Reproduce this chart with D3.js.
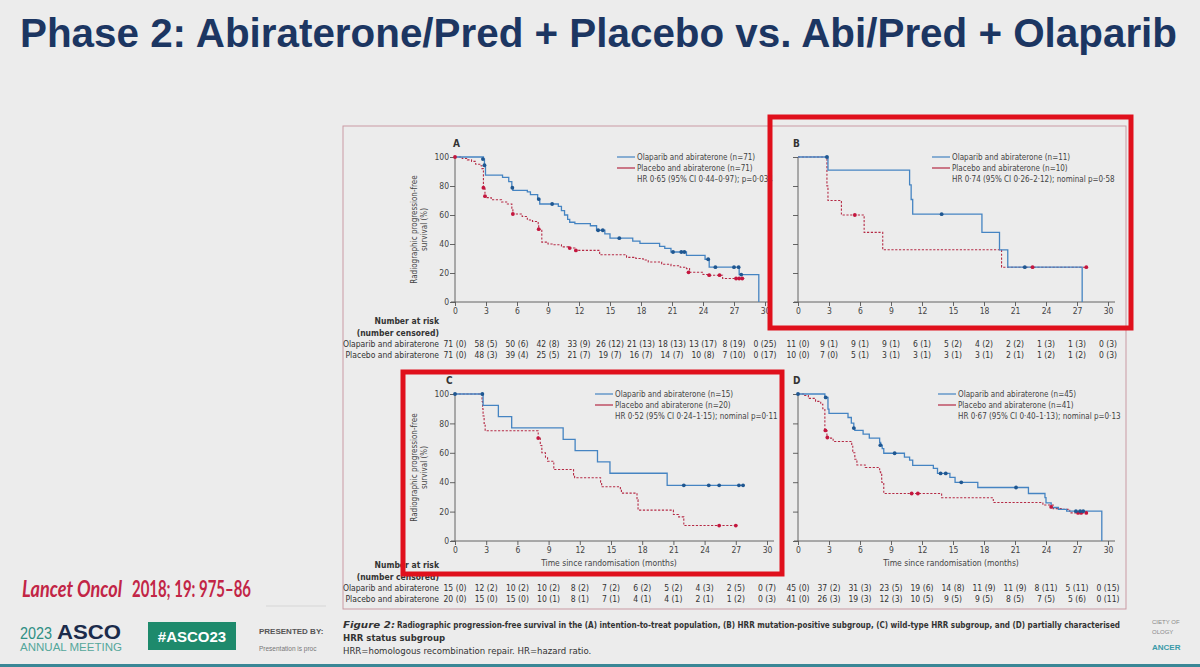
<!DOCTYPE html>
<html>
<head>
<meta charset="utf-8">
<script src="https://cdn.jsdelivr.net/npm/d3@7"></script>
<style>
  html, body { margin: 0; padding: 0; background: #ececec; }
  svg { display: block; }
</style>
</head>
<body>
<script>
// ---- data ----
const monthTicks = [0, 3, 6, 9, 12, 15, 18, 21, 24, 27, 30];
const survTicks = [0, 20, 40, 60, 80, 100];
const armLabels = ["Olaparib and abiraterone", "Placebo and abiraterone"];

// step points [month, survival %]
const aOlaSteps = [[0,100],[2.75,98.6],[2.85,94.3],[2.95,87.5],[4.6,86],[5.2,83],[5.5,78.8],[5.6,77],[7.0,76],[7.3,74],[8.0,71],[8.2,67.6],[10.0,66],[10.3,63],[10.6,60],[10.9,57],[11.1,55],[11.6,54],[13.1,52.6],[13.7,49.5],[14.5,47],[15.0,44],[17.2,42],[17.9,40.5],[19.8,38.4],[20.3,37],[20.9,34.5],[22.4,32.2],[24.2,29.5],[24.6,24],[27.5,18.9],[29.4,18.9],[29.4,0]];
const aOlaCens = [[2.7,98.6],[2.85,94.3],[5.55,78.8],[8.1,71],[9.4,67.6],[13.85,49.5],[14.3,49.5],[15.9,44],[21.1,34.5],[21.9,34.5],[22.2,34.5],[24.5,29.5],[25.2,24],[27.0,24],[27.45,24],[27.7,18.9]];
const aPlaSteps = [[0,100],[0.7,99],[1.2,98],[1.6,97],[2.0,95],[2.4,94],[2.6,92],[2.75,78.8],[2.9,73],[3.0,72],[3.5,70.5],[4.5,69],[5.0,67.6],[5.5,64],[5.6,60.7],[6.5,59],[7.0,56.6],[7.5,55.5],[8.05,54],[8.1,50.2],[8.4,41.3],[9.0,40],[9.5,39.5],[10.3,38],[11.0,37.2],[11.6,35.6],[14.0,32.6],[16.6,30.8],[17.5,30],[18.2,29],[18.7,27.6],[20.0,26],[20.9,25],[21.8,24],[22.4,23],[22.7,20.5],[24.0,19],[24.5,18.5],[25.9,16.2],[28.0,16.2]];
const aPlaCens = [[0,100],[2.75,78.8],[2.9,73],[5.6,60.7],[8.1,50.2],[11.1,37.2],[11.7,35.6],[22.6,20.5],[24.6,18.5],[25.6,18.5],[27.2,16.2],[27.5,16.2],[27.8,16.2]];

const bOlaSteps = [[0,100],[2.9,90.9],[10.8,80.8],[10.95,70.7],[11.1,60.6],[17.8,48],[19.5,36],[20.3,24],[27.5,24],[27.5,0]];
const bOlaCens = [[2.8,100],[13.9,60.6],[21.95,24]];
const bPlaSteps = [[0,100],[2.8,80],[2.9,70],[4.2,60],[6.4,48],[8.2,36],[19.7,24],[27.9,24]];
const bPlaCens = [[5.5,60],[22.7,24],[27.9,24]];

const cOlaSteps = [[0,100],[2.7,92.3],[4.17,84.6],[5.45,76.9],[10.4,69.2],[11.55,61.5],[13.7,53.8],[14.9,46.1],[20.4,37.9],[27.8,37.9]];
const cOlaCens = [[0,100],[2.63,100],[22.0,37.9],[24.4,37.9],[25.4,37.9],[27.3,37.9],[27.7,37.9]];
const cPlaSteps = [[0,100],[2.6,95],[2.65,90],[2.7,85],[2.8,80],[2.9,75],[8.0,70],[8.2,65],[8.35,60],[8.7,57],[8.9,54.3],[9.5,48.6],[11.4,45],[11.5,43],[14.0,40],[14.1,36.9],[15.9,35],[16.0,32.6],[17.5,28],[17.6,21],[21.0,18],[21.5,16.4],[22.0,10.5],[27.2,10.5]];
const cPlaCens = [[8.0,70],[25.4,10.5],[27.0,10.5]];

const dOlaSteps = [[0,100],[2.6,97.7],[2.9,89.7],[3.0,86.8],[4.84,84],[5.16,80.2],[5.4,76.8],[5.5,75.2],[6.3,72.7],[6.9,70],[7.9,67],[8.0,65.2],[8.15,62.9],[8.3,59.7],[10.3,57],[10.8,55],[11.1,51.5],[13.1,49.4],[13.5,46],[14.7,43.3],[15.2,39.9],[17.4,36.4],[22.3,32.3],[23.9,29.5],[24.0,26],[24.5,22.8],[25.2,21.5],[26.0,20.3],[29.4,20.3],[29.4,0]];
const dOlaCens = [[0,100],[2.68,97.7],[5.4,76.8],[7.97,65.2],[9.35,59.7],[13.8,46],[14.3,46],[15.8,39.9],[21.1,36.4],[26.9,20.3],[27.3,20.3],[27.6,20.3]];
const dPlaSteps = [[0,100],[0.65,99],[1.0,97],[1.7,95],[2.2,93],[2.4,90],[2.6,75.2],[2.8,70.4],[3.0,70],[3.4,67.7],[5.2,65],[5.3,60],[5.5,55.6],[5.7,51.7],[6.5,50],[7.9,47],[8.0,46],[8.1,40],[8.3,32.3],[13.9,29.4],[18.9,26.2],[23.7,24.5],[24.7,22],[25.6,21.5],[26.3,19.1],[28.1,19.1]];
const dPlaCens = [[2.65,75.2],[2.84,70.4],[11.0,32.3],[11.6,32.3],[24.5,23.2],[27.1,19.1],[27.4,19.1],[27.9,19.1]];

const aOlaRisk = ["71 (0)","58 (5)","50 (6)","42 (8)","33 (9)","26 (12)","21 (13)","18 (13)","13 (17)","8 (19)","0 (25)"];
const aPlaRisk = ["71 (0)","48 (3)","39 (4)","25 (5)","21 (7)","19 (7)","16 (7)","14 (7)","10 (8)","7 (10)","0 (17)"];
const bOlaRisk = ["11 (0)","9 (1)","9 (1)","9 (1)","6 (1)","5 (2)","4 (2)","2 (2)","1 (3)","1 (3)","0 (3)"];
const bPlaRisk = ["10 (0)","7 (0)","5 (1)","3 (1)","3 (1)","3 (1)","3 (1)","2 (1)","1 (2)","1 (2)","0 (3)"];
const cOlaRisk = ["15 (0)","12 (2)","10 (2)","10 (2)","8 (2)","7 (2)","6 (2)","5 (2)","4 (3)","2 (5)","0 (7)"];
const cPlaRisk = ["20 (0)","15 (0)","15 (0)","10 (1)","8 (1)","7 (1)","4 (1)","4 (1)","2 (1)","1 (2)","0 (3)"];
const dOlaRisk = ["45 (0)","37 (2)","31 (3)","23 (5)","19 (6)","14 (8)","11 (9)","11 (9)","8 (11)","5 (11)","0 (15)"];
const dPlaRisk = ["41 (0)","26 (3)","19 (3)","12 (3)","10 (5)","9 (5)","9 (5)","8 (5)","7 (5)","5 (6)","0 (11)"];

const legendN = { A: ["71", "71"], B: ["11", "10"], C: ["15", "20"], D: ["45", "41"] };
const hrText = {
  A: "HR 0·65 (95% CI 0·44–0·97); p=0·034",
  B: "HR 0·74 (95% CI 0·26–2·12); nominal p=0·58",
  C: "HR 0·52 (95% CI 0·24–1·15); nominal p=0·11",
  D: "HR 0·67 (95% CI 0·40–1·13); nominal p=0·13"
};

// ---- drawing ----
const W = 1200, H = 667;
const blue = "#4584c2", blueDot = "#1f5791", red = "#b52a45", redDot = "#c4163e";

const svg = d3.select("body").append("svg").attr("width", W).attr("height", H);
svg.append("rect").attr("width", W).attr("height", H).attr("fill", "#ececec");

// title
svg.append("text")
  .attr("x", 20).attr("y", 47)
  .attr("textLength", 1157).attr("lengthAdjust", "spacingAndGlyphs")
  .attr("font-family", "Liberation Sans, Arial, sans-serif")
  .attr("font-weight", "bold").attr("font-size", 40)
  .attr("fill", "#1c3662")
  .text("Phase 2: Abiraterone/Pred + Placebo vs. Abi/Pred + Olaparib");

// figure frame
svg.append("rect")
  .attr("x", 343).attr("y", 126).attr("width", 783).attr("height", 483)
  .attr("fill", "none").attr("stroke", "#c99aa3").attr("stroke-width", 1);

const panels = [
  { id: "A", x0: 455, x1: 765, top: 157, bottom: 302, ola: aOlaSteps, olaC: aOlaCens, pla: aPlaSteps, plaC: aPlaCens,
    yLabels: true, xTitle: false, legX: 162, risk: [aOlaRisk, aPlaRisk], riskY: 347, riskLabels: true },
  { id: "B", x0: 798, x1: 1108, top: 157, bottom: 302, ola: bOlaSteps, olaC: bOlaCens, pla: bPlaSteps, plaC: bPlaCens,
    yLabels: false, xTitle: false, legX: 134, risk: [bOlaRisk, bPlaRisk], riskY: 347, riskLabels: false },
  { id: "C", x0: 455, x1: 767, top: 394, bottom: 541, ola: cOlaSteps, olaC: cOlaCens, pla: cPlaSteps, plaC: cPlaCens,
    yLabels: true, xTitle: true, legX: 140, risk: [cOlaRisk, cPlaRisk], riskY: 591, riskLabels: true },
  { id: "D", x0: 798, x1: 1108, top: 394, bottom: 541, ola: dOlaSteps, olaC: dOlaCens, pla: dPlaSteps, plaC: dPlaCens,
    yLabels: false, xTitle: true, legX: 140, risk: [dOlaRisk, dPlaRisk], riskY: 591, riskLabels: false }
];

const font = "Liberation Sans Narrow, DejaVu Sans Condensed, Roboto, sans-serif";
const axisColor = "#555";

panels.forEach(p => {
  const x = d3.scaleLinear().domain([0, 30]).range([p.x0, p.x1]);
  const y = d3.scaleLinear().domain([0, 100]).range([p.bottom, p.top]);
  const g = svg.append("g");

  // x axis
  const xa = g.append("g").attr("transform", `translate(0,${p.bottom})`)
    .call(d3.axisBottom(x).tickValues(monthTicks).tickSize(4).tickPadding(2));
  xa.select(".domain").attr("d", `M${p.x0 - 4},0H${p.x1 + 7}`);
  // y axis
  const ya = g.append("g").attr("transform", `translate(${p.x0},0)`)
    .call(d3.axisLeft(y).tickValues(survTicks).tickSize(5).tickPadding(1)
      .tickFormat(p.yLabels ? d3.format("d") : ""));
  ya.select(".domain").attr("d", `M0,${p.top}V${p.bottom}`);
  g.selectAll(".domain, .tick line").attr("stroke", axisColor).attr("stroke-width", 0.9);
  g.selectAll(".tick text").attr("font-family", font).attr("font-size", 8.5).attr("fill", "#444");

  // panel letter
  g.append("text").attr("x", p.id === "C" ? 446 : (p.id === "A" ? 453 : 793))
    .attr("y", p.top - 10).attr("font-family", font).attr("font-weight", "bold")
    .attr("font-size", 10).attr("fill", "#333").text(p.id);

  if (p.yLabels) {
    const ly = (p.top + p.bottom) / 2;
    const t = g.append("text").attr("transform", `translate(${p.x0 - 38},${ly}) rotate(-90)`)
      .attr("text-anchor", "middle").attr("font-family", font).attr("font-size", 8).attr("fill", "#444");
    t.append("tspan").attr("x", 0).attr("dy", 0).text("Radiographic progression-free");
    t.append("tspan").attr("x", 0).attr("dy", 10).text("survival (%)");
  }
  if (p.xTitle) {
    g.append("text").attr("x", (p.x0 + p.x1) / 2 - 2).attr("y", p.bottom + 25)
      .attr("text-anchor", "middle").attr("font-family", font).attr("font-size", 8.5).attr("fill", "#444")
      .text("Time since randomisation (months)");
  }

  const line = d3.line().x(d => x(d[0])).y(d => y(d[1])).curve(d3.curveStepAfter);
  g.append("path").datum(p.pla).attr("d", line).attr("fill", "none")
    .attr("stroke", red).attr("stroke-width", 1.1).attr("stroke-dasharray", "2.2,1.6");
  g.append("path").datum(p.ola).attr("d", line).attr("fill", "none")
    .attr("stroke", blue).attr("stroke-width", 1.3);
  g.selectAll(".cp").data(p.plaC).join("circle").attr("cx", d => x(d[0])).attr("cy", d => y(d[1]))
    .attr("r", 1.9).attr("fill", redDot);
  g.selectAll(".co").data(p.olaC).join("circle").attr("cx", d => x(d[0])).attr("cy", d => y(d[1]))
    .attr("r", 1.9).attr("fill", blueDot);

  // legend
  const lx = p.x0 + p.legX;
  [[blue, armLabels[0], legendN[p.id][0]], [red, armLabels[1], legendN[p.id][1]]].forEach((d, i) => {
    const yy = p.top + i * 11;
    g.append("line").attr("x1", lx).attr("x2", lx + 18).attr("y1", yy).attr("y2", yy)
      .attr("stroke", d[0]).attr("stroke-width", 1.2);
    g.append("text").attr("x", lx + 20).attr("y", yy + 3).attr("font-family", font)
      .attr("font-size", 8).attr("fill", "#444").text(`${d[1]} (n=${d[2]})`);
  });
  g.append("text").attr("x", lx + 20).attr("y", p.top + 25).attr("font-family", font)
    .attr("font-size", 8).attr("fill", "#444").text(hrText[p.id]);

  // number at risk
  p.risk.forEach((row, i) => {
    g.selectAll(null).data(row).join("text")
      .attr("x", (d, j) => x(monthTicks[j])).attr("y", p.riskY + i * 10.5)
      .attr("text-anchor", "middle").attr("font-family", font).attr("font-size", 8.5).attr("fill", "#333")
      .text(d => d);
  });
  if (p.riskLabels) {
    const rx = 439;
    g.append("text").attr("x", rx).attr("y", p.riskY - 23).attr("text-anchor", "end")
      .attr("font-family", font).attr("font-weight", "bold").attr("font-size", 8.5).attr("fill", "#333").text("Number at risk");
    g.append("text").attr("x", rx).attr("y", p.riskY - 11.5).attr("text-anchor", "end")
      .attr("font-family", font).attr("font-weight", "bold").attr("font-size", 8.5).attr("fill", "#333").text("(number censored)");
    armLabels.forEach((lab, i) => {
      g.append("text").attr("x", rx).attr("y", p.riskY + i * 10.5).attr("text-anchor", "end")
        .attr("font-family", font).attr("font-size", 8.5).attr("fill", "#333").text(lab);
    });
  }
});

// caption
const cap = svg.append("g").attr("font-family", font).attr("fill", "#333").attr("font-size", 9.5);
cap.append("text").attr("x", 343).attr("y", 628).attr("font-style", "italic").attr("font-weight", "bold")
  .attr("textLength", 52).attr("lengthAdjust", "spacingAndGlyphs").text("Figure 2:");
cap.append("text").attr("x", 397).attr("y", 628).attr("font-weight", "bold").attr("font-size", 8.4)
  .attr("textLength", 723).attr("lengthAdjust", "spacingAndGlyphs")
  .text("Radiographic progression-free survival in the (A) intention-to-treat population, (B) HRR mutation-positive subgroup, (C) wild-type HRR subgroup, and (D) partially characterised");
cap.append("text").attr("x", 343).attr("y", 641).attr("font-weight", "bold").text("HRR status subgroup");
cap.append("text").attr("x", 343).attr("y", 654).text("HRR=homologous recombination repair. HR=hazard ratio.");

// red highlight boxes
svg.append("rect").attr("x", 770).attr("y", 117).attr("width", 361).attr("height", 211)
  .attr("fill", "none").attr("stroke", "#e0101c").attr("stroke-width", 5);
svg.append("rect").attr("x", 403).attr("y", 372).attr("width", 379).attr("height", 202)
  .attr("fill", "none").attr("stroke", "#e0101c").attr("stroke-width", 5);

// slide footer
const refFont = "Lato, Open Sans, Liberation Sans, sans-serif";
svg.append("text").attr("x", 22).attr("y", 597).attr("font-family", refFont).attr("font-size", 22)
  .attr("font-weight", "bold").attr("font-style", "italic").attr("fill", "#c22546")
  .attr("textLength", 100).attr("lengthAdjust", "spacingAndGlyphs").text("Lancet Oncol");
svg.append("text").attr("x", 132).attr("y", 597).attr("font-family", refFont).attr("font-size", 22)
  .attr("font-weight", "bold").attr("fill", "#c22546")
  .attr("textLength", 119).attr("lengthAdjust", "spacingAndGlyphs").text("2018; 19: 975–86");
svg.append("line").attr("x1", 266).attr("x2", 326).attr("y1", 606).attr("y2", 606).attr("stroke", "#d6d6d6");

const logo = svg.append("g").attr("font-family", "Liberation Sans, Arial, sans-serif");
logo.append("text").attr("x", 20).attr("y", 639).attr("font-size", 16).attr("fill", "#2f8f84")
  .attr("textLength", 32).attr("lengthAdjust", "spacingAndGlyphs").text("2023");
logo.append("text").attr("x", 57).attr("y", 639).attr("font-size", 21).attr("font-weight", "bold").attr("fill", "#1b2b4b")
  .attr("textLength", 64).attr("lengthAdjust", "spacingAndGlyphs").text("ASCO");
logo.append("text").attr("x", 20).attr("y", 651).attr("font-size", 10).attr("fill", "#55a79b")
  .attr("textLength", 102).attr("lengthAdjust", "spacingAndGlyphs").text("ANNUAL MEETING");
logo.append("rect").attr("x", 148).attr("y", 622).attr("width", 88).attr("height", 28).attr("fill", "#1e8a6c");
logo.append("text").attr("x", 192).attr("y", 642).attr("text-anchor", "middle").attr("font-size", 15)
  .attr("font-weight", "bold").attr("fill", "#fff").text("#ASCO23");
logo.append("text").attr("x", 259).attr("y", 634).attr("font-size", 8).attr("font-weight", "bold").attr("fill", "#555").text("PRESENTED BY:");
logo.append("text").attr("x", 259).attr("y", 651).attr("font-size", 6.5).attr("fill", "#777").text("Presentation is proc");
logo.append("text").attr("x", 1152).attr("y", 624).attr("font-size", 6).attr("fill", "#888").text("CIETY OF");
logo.append("text").attr("x", 1152).attr("y", 634).attr("font-size", 6).attr("fill", "#888").text("OLOGY");
logo.append("text").attr("x", 1152).attr("y", 650).attr("font-size", 8).attr("font-weight", "bold").attr("fill", "#3a9aa8").text("ANCER");
svg.append("rect").attr("x", 0).attr("y", 664).attr("width", W).attr("height", 3).attr("fill", "#3a8796");
</script>
</body>
</html>
